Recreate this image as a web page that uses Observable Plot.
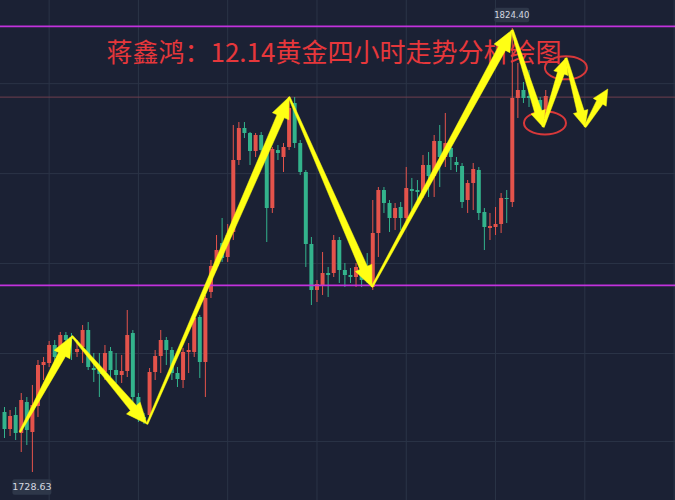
<!DOCTYPE html>
<html>
<head>
<meta charset="utf-8">
<script src="https://cdn.jsdelivr.net/npm/d3@7"></script>
<script src="https://cdn.jsdelivr.net/npm/@observablehq/plot@0.6"></script>
<style>
  html, body { margin: 0; padding: 0; background: #1b2134; }
  #chart { width: 675px; height: 500px; overflow: hidden; }
</style>
</head>
<body>
<div id="chart"></div>
<script>
// 4-hour gold candles (price, USD/oz)
const opens = [1741.57,1737.90,1740.92,1737.04,1743.73,1737.26,1742.87,1751.71,1752.14,1756.02,
1755.38,1758.18,1757.75,1754.51,1755.59,1759.26,1751.06,1750.63,1750.20,1754.73,
1750.63,1749.55,1750.42,1758.61,1744.81,1740.49,1740.92,1750.20,1753.65,1757.10,
1754.94,1749.98,1748.47,1754.51,1754.51,1762.06,1752.36,1767.46,1773.06,1778.02,
1775.01,1780.40,1795.93,1802.83,1801.75,1797.87,1801.32,1798.52,1785.57,1798.08,
1796.58,1798.73,1808.22,1799.59,1793.34,1777.81,1767.89,1768.97,1771.55,1771.55,
1778.67,1772.20,1771.12,1770.69,1771.12,1772.85,1768.53,1780.18,1789.46,1786.65,
1783.42,1785.79,1783.42,1789.67,1789.46,1789.03,1794.85,1792.48,1800.03,1796.58,
1798.52,1795.50,1794.63,1787.30,1790.97,1793.77,1784.71,1781.26,1781.48,1782.12,
1787.73,1786.87,1809.30,1811.03,1809.73,1809.30,1808.87,1804.99];
const highs = [1742.65,1742.00,1742.65,1745.67,1744.81,1747.40,1752.79,1753.44,1756.89,1757.10,
1758.83,1758.83,1758.61,1757.10,1760.34,1760.98,1754.30,1754.30,1756.02,1755.59,
1754.30,1753.87,1763.57,1759.26,1745.67,1741.36,1751.06,1754.94,1759.26,1757.75,
1755.59,1751.28,1755.38,1756.45,1762.93,1762.49,1766.81,1774.36,1779.75,1783.42,
1782.12,1803.48,1804.12,1804.12,1801.97,1801.75,1801.97,1799.16,1798.73,1799.16,
1799.59,1809.52,1809.52,1800.24,1793.77,1779.32,1770.04,1776.08,1772.85,1779.75,
1779.32,1773.71,1772.63,1773.71,1772.63,1775.87,1787.30,1790.10,1790.10,1787.30,
1786.65,1786.87,1794.42,1792.05,1791.61,1797.01,1797.65,1801.32,1803.48,1806.07,
1798.73,1796.58,1795.28,1791.61,1795.28,1794.42,1785.57,1784.50,1785.79,1788.81,
1789.46,1824.40,1816.85,1812.75,1815.34,1810.38,1809.52,1811.03];
const lows = [1735.96,1736.39,1735.53,1732.94,1734.45,1728.63,1740.49,1748.47,1751.28,1752.36,
1753.87,1754.51,1752.79,1753.44,1752.14,1750.63,1748.04,1744.81,1748.47,1749.12,
1747.83,1747.83,1749.12,1743.51,1739.41,1738.98,1740.28,1748.47,1749.98,1751.71,
1748.47,1746.96,1746.75,1749.98,1753.44,1748.91,1744.81,1766.16,1772.20,1773.93,
1773.93,1778.67,1794.85,1800.67,1794.85,1796.58,1797.44,1778.24,1784.50,1795.93,
1793.34,1798.08,1798.52,1792.69,1772.85,1764.65,1765.30,1766.81,1766.38,1770.69,
1769.40,1768.53,1769.40,1768.53,1768.53,1769.40,1767.89,1775.01,1784.50,1780.40,
1780.83,1780.83,1781.48,1785.14,1785.79,1787.73,1787.95,1787.95,1790.10,1794.42,
1793.77,1793.34,1785.57,1784.50,1785.14,1782.99,1776.51,1778.67,1779.75,1780.18,
1782.34,1785.79,1804.99,1808.22,1807.36,1807.79,1805.20,1804.12];
const closes = [1737.90,1740.71,1737.04,1744.16,1737.69,1743.08,1751.71,1752.36,1756.02,1753.44,
1758.18,1757.10,1757.32,1755.16,1759.26,1751.28,1750.63,1749.77,1754.30,1750.63,
1749.55,1750.42,1758.18,1744.81,1740.92,1740.06,1750.20,1753.65,1757.10,1754.94,
1749.98,1748.69,1754.51,1754.94,1761.85,1752.36,1766.16,1773.06,1776.51,1774.79,
1779.75,1795.93,1802.83,1801.75,1797.87,1801.32,1798.08,1785.57,1798.30,1797.44,
1798.73,1807.14,1799.59,1793.34,1777.81,1767.89,1769.18,1771.55,1771.12,1778.67,
1772.20,1771.12,1770.69,1772.85,1770.04,1770.48,1780.18,1789.46,1786.65,1783.42,
1785.57,1783.42,1789.89,1789.24,1789.03,1794.85,1792.48,1800.03,1796.58,1799.59,
1796.58,1794.85,1786.87,1790.97,1793.99,1784.50,1781.48,1781.69,1782.12,1787.73,
1787.52,1809.30,1811.03,1809.30,1809.30,1808.87,1806.28,1809.73];

// horizontal levels
const purpleLevels = [1824.85, 1769.0];
const priceLine = [1809.6];
// grid positions
const xGrid = [8, 24, 40, 56, 72, 88, 104, 120];
const yGrid = [1735.3, 1754.3, 1773.7, 1793.1, 1812.5];

// hand-drawn arrow path: waypoints [candle index, price]
const arrowPoints = [[2.87,1737.26],[12.19,1757.96],[25.63,1738.98],[51.08,1809.52],[65.95,1768.53],
  [91.04,1823.97],[96.6,1803.05],[100.7,1817.93],[104.1,1803.05],[108.2,1811.24]];
// circled points [candle index, price]
const circles = [[96.95,1803.9],[100.7,1815.8]];

const title = "蒋鑫鸿：12.14黄金四小时走势分析绘图";

const RED = "#e4534b", GREEN = "#33b38c";
const candles = opens.map((o, i) => ({i, o, h: highs[i], l: lows[i], c: closes[i], up: closes[i] >= o}));

const chart = Plot.plot({
  width: 675, height: 500, margin: 0,
  x: {domain: [-0.717, 120.25], axis: null},
  y: {domain: [1722.59, 1830.44], axis: null},
  style: {background: "#1b2134", overflow: "hidden"},
  marks: [
    Plot.ruleY(yGrid, {stroke: "#2b3447", strokeWidth: 1}),
    Plot.ruleX(xGrid, {stroke: "#2b3447", strokeWidth: 1}),
    Plot.ruleY(priceLine, {stroke: "#6f3f4e", strokeWidth: 1}),
    Plot.ruleX(candles, {x: "i", y1: "l", y2: "h", stroke: d => d.up ? RED : GREEN, strokeWidth: 1}),
    Plot.ruleX(candles, {x: "i", y1: "o", y2: "c", stroke: d => d.up ? RED : GREEN, strokeWidth: 4}),
    Plot.ruleY(purpleLevels, {stroke: "#c232dc", strokeWidth: 1.6}),
    Plot.text([title], {frameAnchor: "top-left", dx: 106, dy: 61, lineAnchor: "bottom", textAnchor: "start",
      fill: "#e6373b", fontSize: 26, fontFamily: "'Noto Sans CJK SC', 'Noto Sans', sans-serif"})
  ]
});
document.getElementById("chart").appendChild(chart);

const sx = chart.scale("x"), sy = chart.scale("y");
const svg = d3.select(chart);
const g = svg.append("g");

// circles
for (const [ci, cp] of circles) {
  g.append("ellipse").attr("cx", sx.apply(ci)).attr("cy", sy.apply(cp))
    .attr("rx", 21).attr("ry", 11.5).attr("fill", "none").attr("stroke", "#d8383a").attr("stroke-width", 2);
}

// tapered arrows
function arrowPath(ax, ay, bx, by, hl, hw, w0, w1) {
  const dx = bx - ax, dy = by - ay, L = Math.hypot(dx, dy);
  const ux = dx / L, uy = dy / L, nx = -uy, ny = ux;
  const h = Math.min(hl, L * 0.35);
  const cx = bx - ux * h, cy = by - uy * h;
  const pts = [
    [ax + nx * w0, ay + ny * w0], [cx + nx * w1, cy + ny * w1], [cx + nx * hw, cy + ny * hw],
    [bx, by], [cx - nx * hw, cy - ny * hw], [cx - nx * w1, cy - ny * w1], [ax - nx * w0, ay - ny * w0]
  ];
  return "M" + pts.map(p => p[0].toFixed(1) + "," + p[1].toFixed(1)).join("L") + "Z";
}
for (let k = 0; k < arrowPoints.length - 1; k++) {
  const [i0, p0] = arrowPoints[k], [i1, p1] = arrowPoints[k + 1];
  const big = k < 5;
  g.append("path")
    .attr("d", arrowPath(sx.apply(i0), sy.apply(p0), sx.apply(i1), sy.apply(p1),
      big ? 21 : 16, big ? 9 : 7.5, big ? 0.9 : 1.2, big ? 4 : 3.6))
    .attr("fill", "#ffff14").attr("stroke", "#ffff14").attr("stroke-width", 0.5).attr("stroke-linejoin", "round");
}

// high / low labels
const fmt = d3.format(".2f");
const hiIdx = d3.maxIndex(highs), loIdx = d3.minIndex(lows);
function priceTag(x, y, text, fs) {
  const w = fs * 4.1, h = fs + 6;
  g.append("rect").attr("x", x - w / 2).attr("y", y - h / 2).attr("width", w).attr("height", h)
    .attr("rx", 2).attr("fill", "#2e3749");
  g.append("text").attr("x", x).attr("y", y).attr("dy", "0.35em").attr("text-anchor", "middle")
    .attr("fill", "#d5d9e0").attr("font-size", fs).attr("font-family", "'DejaVu Sans', sans-serif").text(text);
}
priceTag(sx.apply(hiIdx), sy.apply(highs[hiIdx]) - 13, fmt(highs[hiIdx]), 8.5);
priceTag(sx.apply(loIdx), sy.apply(lows[loIdx]) + 15, fmt(lows[loIdx]), 9.5);
</script>
</body>
</html>
